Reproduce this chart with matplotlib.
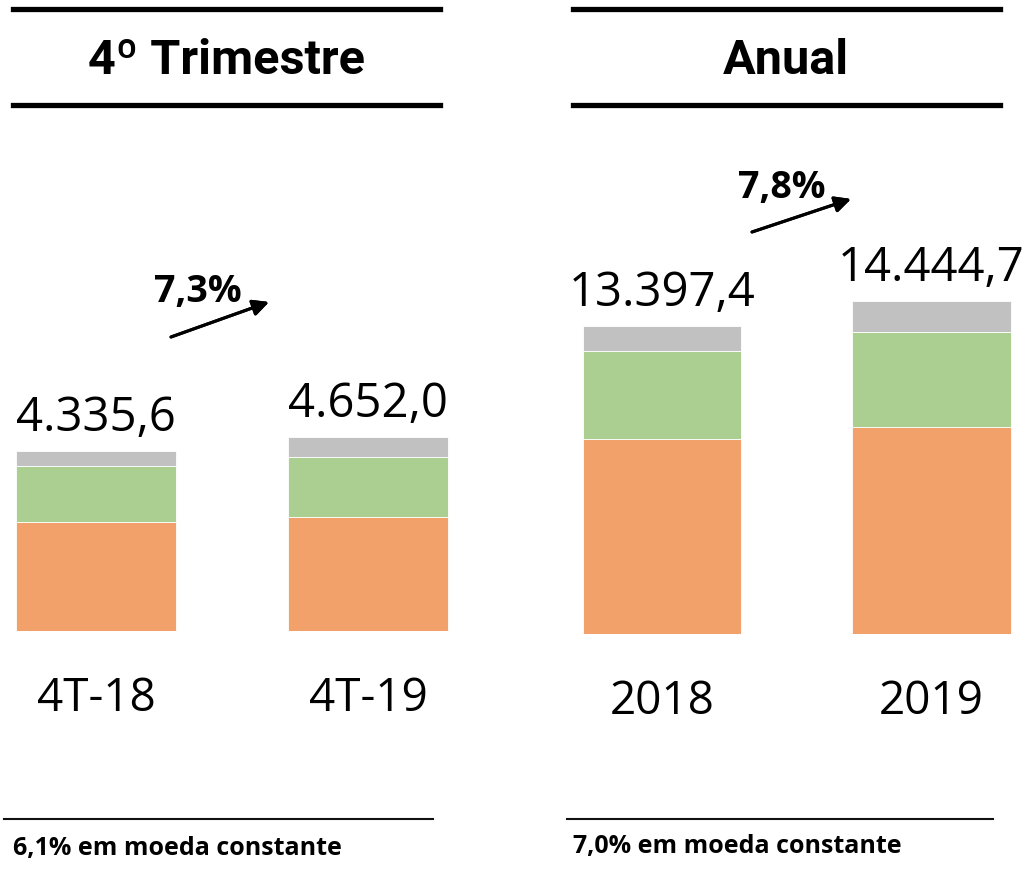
import matplotlib
matplotlib.use("Agg")
import matplotlib.pyplot as plt
from matplotlib.lines import Line2D

W, H = 1035, 869

# dados
tri_rotulos = ["4T-18", "4T-19"]
tri_laranja = [2626.0, 2734.0]
tri_verde = [1349.0, 1439.0]
tri_cinza = [360.6, 479.0]

anual_rotulos = ["2018", "2019"]
anual_laranja = [8482.0, 8979.0]
anual_verde = [3828.0, 4121.0]
anual_cinza = [1087.4, 1344.7]

cresc_tri = "7,3%"
cresc_anual = "7,8%"
rodape_tri = "6,1% em moeda constante"
rodape_anual = "7,0% em moeda constante"

cor_laranja = "#F2A16B"
cor_verde = "#AACF91"
cor_cinza = "#C1C1C1"

fonte = "Open Sans"
fonte_titulo = "Roboto"


def fmt_br(v):
    s = f"{v:,.1f}"
    return s.replace(",", "X").replace(".", ",").replace("X", ".")


def fx(x):
    return x / W


def fy(y):
    return 1 - y / H


def px_pt(p):
    return p * 72 / 100


fig = plt.figure(figsize=(W / 100, H / 100), dpi=100)


def painel(x0, x1, y_base, y_topo, xlim, ylim_top, rotulos, laranja, verde, cinza):
    ax = fig.add_axes([fx(x0), fy(y_base), fx(x1 - x0), (y_base - y_topo) / H])
    pos = list(range(len(rotulos)))
    larg = 0.588
    ax.bar(pos, laranja, width=larg, color=cor_laranja, edgecolor="white", linewidth=0.6)
    ax.bar(pos, verde, width=larg, bottom=laranja, color=cor_verde, edgecolor="white", linewidth=0.6)
    base3 = [a + b for a, b in zip(laranja, verde)]
    ax.bar(pos, cinza, width=larg, bottom=base3, color=cor_cinza, edgecolor="white", linewidth=0.6)
    totais = [a + b + c for a, b, c in zip(laranja, verde, cinza)]
    for i, t in enumerate(totais):
        ax.annotate(fmt_br(t), xy=(i, t), xytext=(0, px_pt(20)), textcoords="offset points",
                    ha="center", va="baseline", fontsize=34, family=fonte, color="black")
    for i, r in enumerate(rotulos):
        ax.annotate(r, xy=(i, 0), xytext=(0, -px_pt(80)), textcoords="offset points",
                    ha="center", va="baseline", fontsize=33, family=fonte, color="black")
    ax.set_xlim(*xlim)
    ax.set_ylim(0, ylim_top)
    ax.axis("off")
    return ax


painel(0, 470, 631, 120, (-0.353, 1.375), 511 * 24.02,
       tri_rotulos, tri_laranja, tri_verde, tri_cinza)
painel(560, 1035, 634, 120, (-0.3785, 1.384), 514 * 43.44,
       anual_rotulos, anual_laranja, anual_verde, anual_cinza)

# linhas dos titulos
for (xa, xb) in [(13, 440), (573, 1000)]:
    for y in [9, 105]:
        fig.add_artist(Line2D([fx(xa), fx(xb)], [fy(y), fy(y)], color="black", lw=3.8))
for (xa, xb) in [(4, 433), (567, 993)]:
    fig.add_artist(Line2D([fx(xa), fx(xb)], [fy(819), fy(819)], color="#111111", lw=1.5))

fig.text(fx(227), fy(74), "4º Trimestre", ha="center", va="baseline",
         fontsize=35, fontweight="bold", family=fonte_titulo)
fig.text(fx(786), fy(74), "Anual", ha="center", va="baseline",
         fontsize=35, fontweight="bold", family=fonte_titulo)

# setas de crescimento
for txt, (tx, ty), (ax_, ay_), (bx, by) in [
    (cresc_tri, (198, 302), (171, 337), (269, 302)),
    (cresc_anual, (782, 198), (752, 232), (851, 199)),
]:
    fig.text(fx(tx), fy(ty), txt, ha="center", va="baseline",
             fontsize=27, fontweight="bold", family=fonte)
    fig.add_artist(plt.annotate("", xy=(fx(bx), fy(by)), xytext=(fx(ax_), fy(ay_)),
                                xycoords="figure fraction", textcoords="figure fraction",
                                arrowprops=dict(arrowstyle="-|>", color="black", lw=2.2,
                                                mutation_scale=24, shrinkA=0, shrinkB=0)))

fig.text(fx(13), fy(855), rodape_tri, ha="left", va="baseline",
         fontsize=18, fontweight="bold", family=fonte)
fig.text(fx(573), fy(853), rodape_anual, ha="left", va="baseline",
         fontsize=18, fontweight="bold", family=fonte)

fig.savefig("out.png", dpi=100)
